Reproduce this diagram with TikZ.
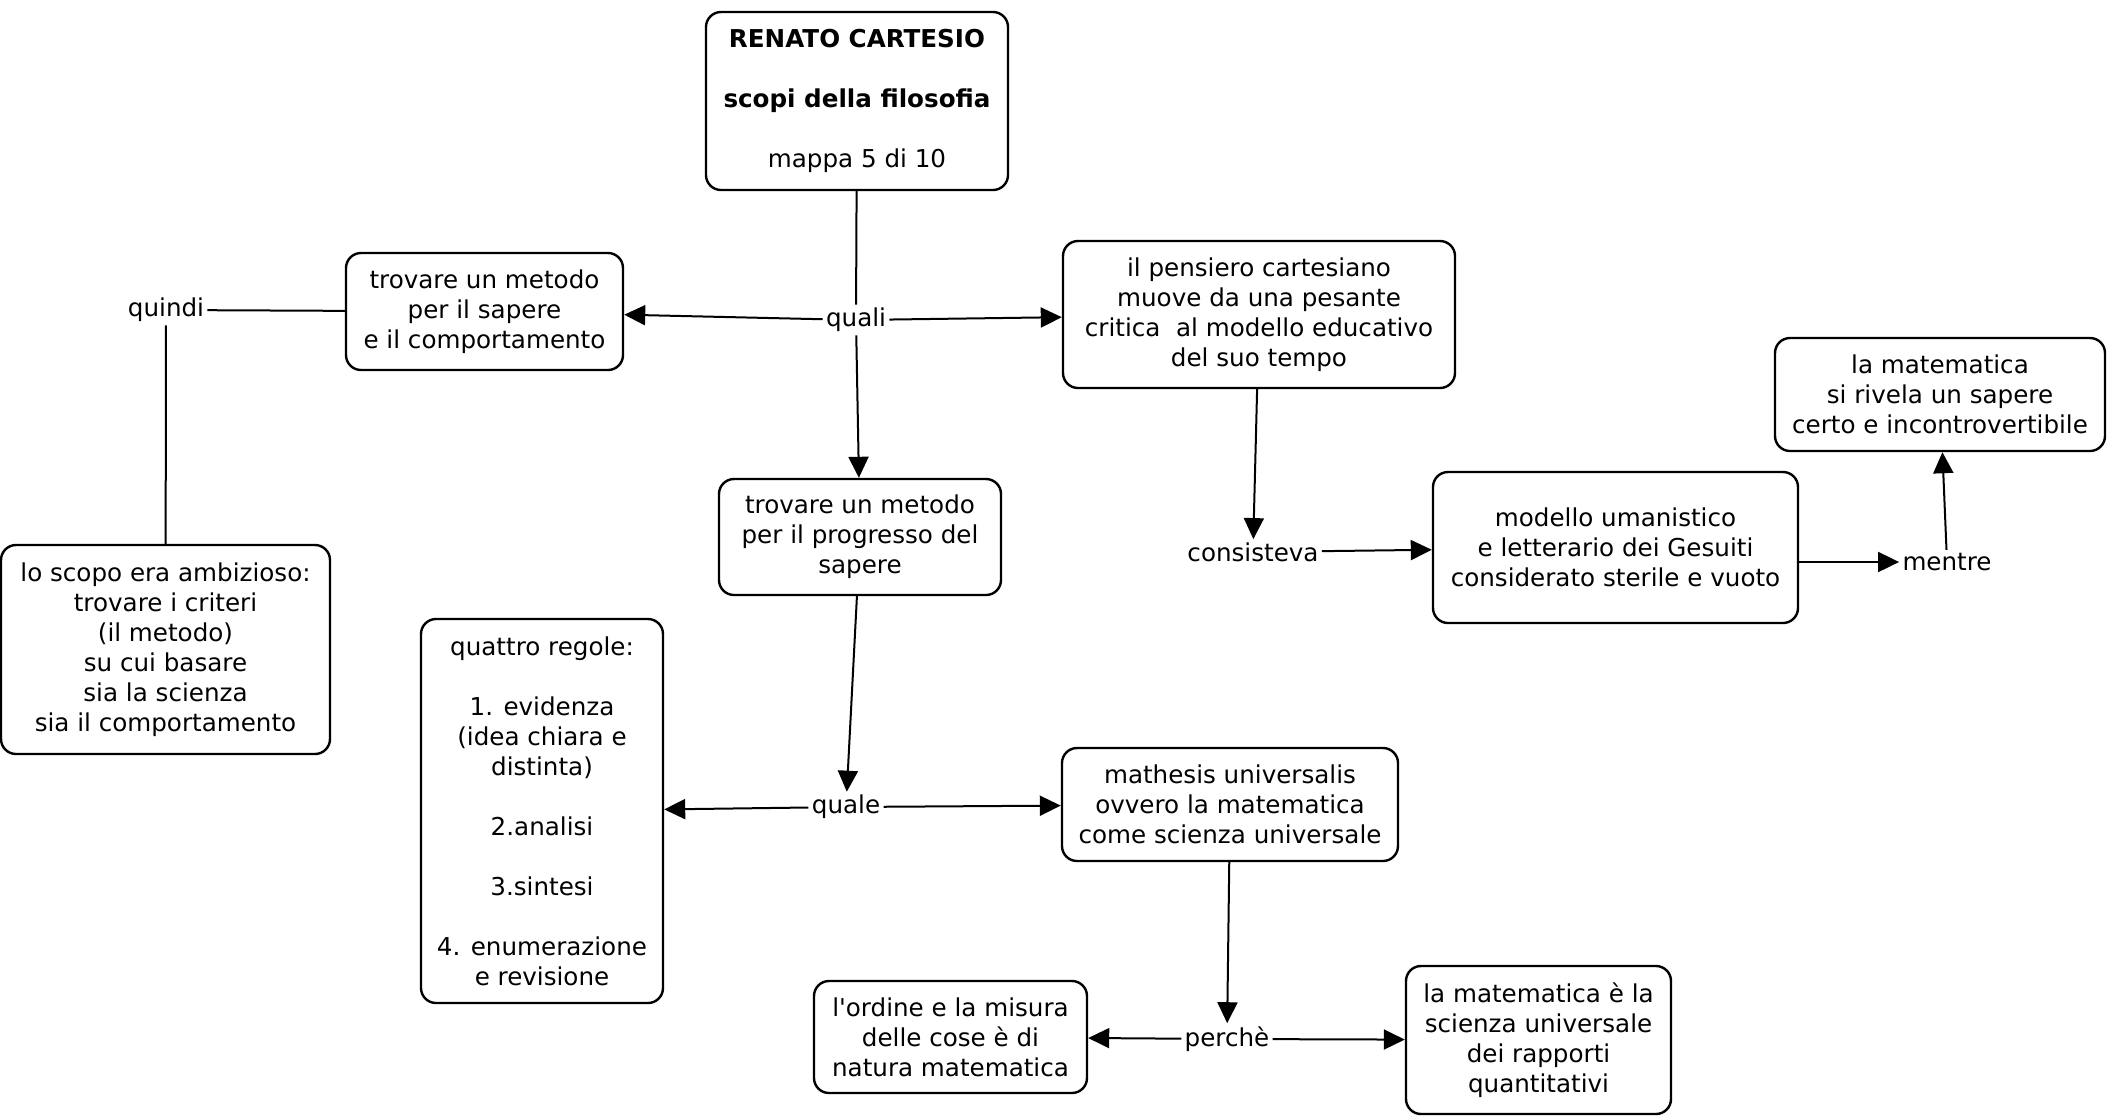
\documentclass[tikz,border=0pt]{standalone}
\usepackage{fontspec}
\setmainfont{DejaVu Sans}[Ligatures=TeXOff]
\usetikzlibrary{arrows.meta}
\begin{document}
\begin{tikzpicture}[x=0.5pt,y=-0.5pt,
  every node/.style={font=\fontsize{12.3}{15}\selectfont},
  concept/.style={draw=black, line width=1.2pt, rounded corners=7.5pt, align=center, inner sep=0pt, fill=white},
  linklabel/.style={fill=white, inner sep=1.5pt, align=center},
  conn/.style={line width=1pt, draw=black},
  arr/.style={conn, -{Triangle[length=10.5pt,width=10pt]}}]
\useasboundingbox (0,0) rectangle (2110,1115);
% concepts
\node[concept, minimum width=151pt, minimum height=89pt] (top) at (857,101)
  {\textbf{RENATO CARTESIO}\\[15pt]\textbf{scopi della filosofia}\\[15pt]mappa 5 di 10};
\node[concept, minimum width=138.5pt, minimum height=58.5pt] (sapere) at (484.5,311.5)
  {trovare un metodo\\per il sapere\\e il comportamento};
\node[concept, minimum width=164.5pt, minimum height=104.5pt] (scopo) at (165.5,649.5)
  {lo scopo era ambizioso:\\trovare i criteri\\(il metodo)\\su cui basare\\sia la scienza\\sia il comportamento};
\node[concept, minimum width=196pt, minimum height=73.5pt] (pensiero) at (1259,314.5)
  {il pensiero cartesiano\\muove da una pesante\\critica \ al modello educativo\\del suo tempo};
\node[concept, minimum width=141pt, minimum height=58pt] (progresso) at (860,537)
  {trovare un metodo\\per il progresso del\\sapere};
\node[concept, minimum width=182.5pt, minimum height=75.5pt] (modello) at (1615.5,547.5)
  {modello umanistico\\e letterario dei Gesuiti\\considerato sterile e vuoto};
\node[concept, minimum width=165pt, minimum height=56.5pt] (matem) at (1940,394.5)
  {la matematica\\si rivela un sapere\\certo e incontrovertibile};
\node[concept, minimum width=121pt, minimum height=192pt] (regole) at (542,811)
  {quattro regole:\\[15pt]1. evidenza\\(idea chiara e\\distinta)\\[15pt]2.analisi\\[15pt]3.sintesi\\[15pt]4. enumerazione\\e revisione};
\node[concept, minimum width=168pt, minimum height=56.5pt] (mathesis) at (1230,804.5)
  {mathesis universalis\\ovvero la matematica\\come scienza universale};
\node[concept, minimum width=136.5pt, minimum height=56pt] (ordine) at (950.5,1037)
  {l'ordine e la misura\\delle cose è di\\natura matematica};
\node[concept, minimum width=132.5pt, minimum height=74pt] (scienza) at (1538.5,1040)
  {la matematica è la\\scienza universale\\dei rapporti\\quantitativi};
% linking phrases
\node[linklabel] (quali) at (856,320) {quali};
\node[linklabel] (quindi) at (166,310) {quindi};
\node[linklabel] (consisteva) at (1253,552) {consisteva};
\node[linklabel] (mentre) at (1947,562) {mentre};
\node[linklabel] (quale) at (846,807) {quale};
\node[linklabel] (perche) at (1227,1039) {perchè};
% connectors
\draw[conn] (top) -- (quali);
\draw[arr] (quali) -- (sapere);
\draw[arr] (quali) -- (pensiero);
\draw[arr] (quali) -- (progresso);
\draw[conn] (sapere) -- (quindi);
\draw[conn] (quindi) -- (scopo);
\draw[arr] (pensiero) -- (consisteva);
\draw[arr] (consisteva) -- (modello);
\draw[arr] (modello.east |- mentre.west) -- (mentre.west);
\draw[arr] (mentre) -- (matem);
\draw[arr] (progresso) -- (quale);
\draw[arr] (quale) -- (regole);
\draw[arr] (quale) -- (mathesis);
\draw[arr] (mathesis) -- (perche);
\draw[arr] (perche) -- (ordine);
\draw[arr] (perche) -- (scienza);
\end{tikzpicture}
\end{document}
